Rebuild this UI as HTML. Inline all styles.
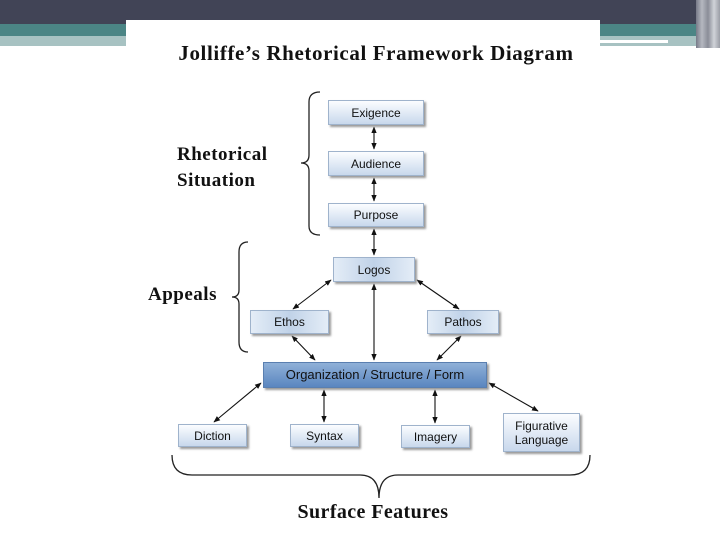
<!DOCTYPE html>
<html><head><style>
body{margin:0;width:720px;height:540px;overflow:hidden;background:#fff;position:relative;font-family:"Liberation Sans",sans-serif}
.a{position:absolute}
.b{position:absolute;box-sizing:border-box;border:1px solid #9fb3cc;background:linear-gradient(#fbfdff,#c8d8ec);box-shadow:2px 2px 2px #9a9a9a;font-size:12px;color:#111;display:flex;align-items:center;justify-content:center;text-align:center;line-height:14px}
.s{font-family:"Liberation Serif",serif;font-weight:bold;color:#111}
</style></head><body>
<div class="a" style="left:0;top:0;width:720px;height:24px;background:#414456"></div>
<div class="a" style="left:0;top:24px;width:720px;height:12px;background:#4b8585"></div>
<div class="a" style="left:0;top:36px;width:720px;height:10px;background:#a7c2c2"></div>
<div class="a" style="left:600px;top:40px;width:68px;height:3px;background:#fff"></div>
<div class="a" style="left:696px;top:0;width:24px;height:48px;background:linear-gradient(90deg,#777a88,#b5b8c0,#8a8d98,#d0d3d8,#9a9da6)"></div>
<div class="a" style="left:126px;top:20px;width:474px;height:520px;background:#fff"></div>
<div class="a s" style="left:126px;top:41px;width:500px;text-align:center;font-size:21px;letter-spacing:0.6px">Jolliffe’s Rhetorical Framework Diagram</div>
<div class="a s" style="left:177px;top:142px;font-size:19px;line-height:26px;letter-spacing:0.5px">Rhetorical<br>Situation</div>
<div class="a s" style="left:148px;top:284px;font-size:19px;letter-spacing:0.5px">Appeals</div>
<div class="a s" style="left:240px;top:501px;width:266px;text-align:center;font-size:20px;letter-spacing:0.4px">Surface Features</div>
<svg class="a" style="left:0;top:0" width="720" height="540">
<defs><marker id="m" viewBox="0 0 10 10" refX="9" refY="5" markerWidth="6" markerHeight="6" orient="auto-start-reverse"><path d="M0,1L10,5L0,9z" fill="#111"/></marker></defs>
<g fill="none" stroke="#222" stroke-width="1.3">
<path d="M320,92 Q309,92 309,102 L309,155 Q309,163 301,163 Q309,163 309,171 L309,226 Q309,235 320,235"/>
<path d="M248,242 Q239,242 239,252 L239,290 Q239,297 232,297 Q239,297 239,304 L239,342 Q239,352 248,352"/>
<path d="M172,455 Q172,475 192,475 L360,475 Q379,475 379,498 Q379,475 398,475 L570,475 Q590,475 590,455"/>
</g>
<g stroke="#111" stroke-width="1.1" marker-start="url(#m)" marker-end="url(#m)">
<line x1="374" y1="127" x2="374" y2="149"/>
<line x1="374" y1="178" x2="374" y2="201"/>
<line x1="374" y1="229" x2="374" y2="255"/>
<line x1="374" y1="284" x2="374" y2="360"/>
<line x1="331" y1="280" x2="293" y2="309"/>
<line x1="417" y1="280" x2="459" y2="309"/>
<line x1="292" y1="336" x2="315" y2="360"/>
<line x1="461" y1="336" x2="437" y2="360"/>
<line x1="261" y1="383" x2="214" y2="422"/>
<line x1="324" y1="390" x2="324" y2="422"/>
<line x1="435" y1="390" x2="435" y2="423"/>
<line x1="489" y1="383" x2="538" y2="411"/>
</g>
</svg>
<div class="b" style="left:328px;top:100px;width:96px;height:25px">Exigence</div>
<div class="b" style="left:328px;top:151px;width:96px;height:25px">Audience</div>
<div class="b" style="left:328px;top:203px;width:96px;height:24px">Purpose</div>
<div class="b" style="left:333px;top:257px;width:82px;height:25px;background:linear-gradient(90deg,#e4edf7,#c0d2e8,#e4edf7)">Logos</div>
<div class="b" style="left:250px;top:310px;width:79px;height:24px;background:linear-gradient(90deg,#e4edf7,#c0d2e8,#e4edf7)">Ethos</div>
<div class="b" style="left:427px;top:310px;width:72px;height:24px;background:linear-gradient(90deg,#e4edf7,#c0d2e8,#e4edf7)">Pathos</div>
<div class="b" style="left:263px;top:362px;width:224px;height:26px;background:linear-gradient(#8fb0d8,#5a86c0);border-color:#5a7fb0;font-size:13px">Organization / Structure / Form</div>
<div class="b" style="left:178px;top:424px;width:69px;height:23px">Diction</div>
<div class="b" style="left:290px;top:424px;width:69px;height:23px">Syntax</div>
<div class="b" style="left:401px;top:425px;width:69px;height:23px">Imagery</div>
<div class="b" style="left:503px;top:413px;width:77px;height:39px">Figurative<br>Language</div>
</body></html>
